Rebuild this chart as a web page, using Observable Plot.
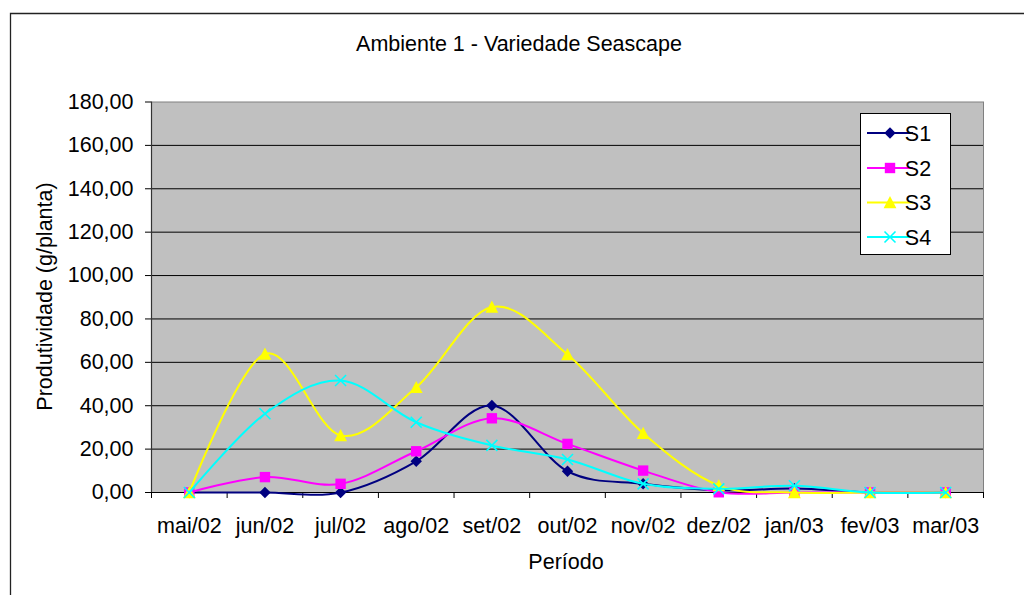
<!DOCTYPE html>
<html>
<head>
<meta charset="utf-8">
<script src="https://cdn.jsdelivr.net/npm/d3@7"></script>
<script src="https://cdn.jsdelivr.net/npm/@observablehq/plot@0.6"></script>
<style>
  html, body { margin: 0; padding: 0; background: #fff; }
  #wrap { position: relative; width: 1024px; height: 595px; overflow: hidden; font-family: "Liberation Sans", Arial, sans-serif; }
  #wrap svg { position: absolute; left: 0; top: 0; }
</style>
</head>
<body>
<div id="wrap"></div>
<script>
const months = ["mai/02","jun/02","jul/02","ago/02","set/02","out/02","nov/02","dez/02","jan/03","fev/03","mar/03"];
const s1 = [0, 0, 0, 14.4, 40.1, 9.8, 4.0, 1.0, 1.8, 0, 0];
const s2 = [0, 7.1, 4.0, 19.0, 34.2, 22.4, 10.1, 0.1, 0, 0, 0];
const s3 = [0, 63.9, 26.3, 48.5, 85.5, 63.6, 27.3, 3.2, 0, 0, 0];
const s4 = [0, 36.3, 51.6, 32.4, 21.7, 15.2, 4.0, 1.7, 3.1, 0, 0];
const seriesNames = ["S1", "S2", "S3", "S4"];
const seriesValues = [s1, s2, s3, s4];
const seriesColors = ["#000080", "#ff00ff", "#ffff00", "#00ffff"];
const yTicks = [0, 20, 40, 60, 80, 100, 120, 140, 160, 180];
const titleText = "Ambiente 1 - Variedade Seascape";
const yTitle = "Produtividade (g/planta)";
const xTitle = "Período";

// custom marker shapes (size -> radius r)
const rad = s => Math.sqrt(s / Math.PI);
const symDiamond = {draw(c, s) { const r = rad(s); c.moveTo(0, -r); c.lineTo(r, 0); c.lineTo(0, r); c.lineTo(-r, 0); c.closePath(); }};
const symSquare = {draw(c, s) { const r = rad(s); c.moveTo(-r, -r); c.lineTo(r, -r); c.lineTo(r, r); c.lineTo(-r, r); c.closePath(); }};
const symTriangle = {draw(c, s) { const r = rad(s); c.moveTo(0, -r); c.lineTo(r, r * 0.9); c.lineTo(-r, r * 0.9); c.closePath(); }};
const symTimes = {draw(c, s) { const r = rad(s); c.moveTo(-r, -r); c.lineTo(r, r); c.moveTo(r, -r); c.lineTo(-r, r); }};
const markers = [
  {symbol: symDiamond, r: 5.7, filled: true},
  {symbol: symSquare, r: 5.2, filled: true},
  {symbol: symTriangle, r: 6.4, filled: true},
  {symbol: symTimes, r: 5.5, filled: false}
];

const rows = [];
seriesNames.forEach((name, k) => {
  seriesValues[k].forEach((v, i) => rows.push({series: name, k, i, x: i + 0.5, month: months[i], value: v}));
});

const fmt = d => d3.format(".2f")(d).replace(".", ",");

const marks = [
  Plot.frame({fill: "#c0c0c0", stroke: "#808080"}),
  Plot.ruleY(yTicks.filter(d => d > 0 && d < 180), {stroke: "#000", strokeWidth: 1}),
  Plot.ruleX([0], {stroke: "#333", strokeWidth: 1.2}),
  Plot.ruleY([0], {stroke: "#000", strokeWidth: 1.2}),
  Plot.axisY({ticks: yTicks, tickFormat: fmt, tickSize: 6, tickPadding: 12, stroke: "#000", label: null}),
  Plot.axisX({ticks: d3.range(0, months.length + 1), tickFormat: () => "", tickSize: 6, stroke: "#000", label: null}),
  Plot.axisX({ticks: d3.range(months.length).map(i => i + 0.5), tickFormat: d => months[Math.floor(d)], tickSize: 0, tickPadding: 25, label: null})
];

seriesNames.forEach((name, k) => {
  const data = rows.filter(d => d.k === k);
  marks.push(Plot.line(data, {x: "x", y: "value", stroke: seriesColors[k], strokeWidth: 2, curve: "cardinal"}));
  const m = markers[k];
  marks.push(Plot.dot(data, {
    x: "x", y: "value", r: m.r, symbol: m.symbol,
    fill: m.filled ? seriesColors[k] : "none",
    stroke: m.filled ? "none" : seriesColors[k],
    strokeWidth: m.filled ? 0 : 1.6
  }));
});

const chart = Plot.plot({
  width: 1024,
  height: 595,
  marginLeft: 151,
  marginRight: 41,
  marginTop: 101.5,
  marginBottom: 103,
  style: {fontFamily: "'Liberation Sans', Arial, sans-serif", fontSize: "21.5px", color: "#000", background: "transparent", overflow: "visible"},
  x: {type: "linear", domain: [0, months.length], axis: null},
  y: {domain: [0, 180], axis: null},
  marks
});

document.getElementById("wrap").appendChild(chart);

// Chart decorations: outer frame, titles, legend
const svg = d3.select(chart);
const deco = svg.append("g").attr("font-family", "'Liberation Sans', Arial, sans-serif").attr("font-size", 21.5).attr("fill", "#000");
deco.append("path").attr("d", "M10.5,600 L10.5,13.5 L1030,13.5").attr("fill", "none").attr("stroke", "#222").attr("stroke-width", 1.3);
deco.append("text").attr("x", 519).attr("y", 51).attr("text-anchor", "middle").text(titleText);
deco.append("text").attr("transform", "translate(52,296.5) rotate(-90)").attr("text-anchor", "middle").text(yTitle);
deco.append("text").attr("x", 566).attr("y", 569).attr("text-anchor", "middle").text(xTitle);

const leg = deco.append("g");
leg.append("rect").attr("x", 860.5).attr("y", 113.5).attr("width", 90).attr("height", 141).attr("fill", "#fff").attr("stroke", "#000").attr("stroke-width", 1);
const rowsY = [133, 168, 202.5, 237];
seriesNames.forEach((name, k) => {
  const y = rowsY[k];
  leg.append("line").attr("x1", 867).attr("x2", 913).attr("y1", y).attr("y2", y).attr("stroke", seriesColors[k]).attr("stroke-width", 2);
  const p = d3.path();
  markers[k].symbol.draw(p, markers[k].r * markers[k].r * Math.PI);
  leg.append("path").attr("d", p.toString()).attr("transform", `translate(890,${y})`)
    .attr("fill", markers[k].filled ? seriesColors[k] : "none")
    .attr("stroke", markers[k].filled ? "none" : seriesColors[k])
    .attr("stroke-width", 1.6);
  leg.append("text").attr("x", 918).attr("y", y + 7.5).text(name);
});
</script>
</body>
</html>
